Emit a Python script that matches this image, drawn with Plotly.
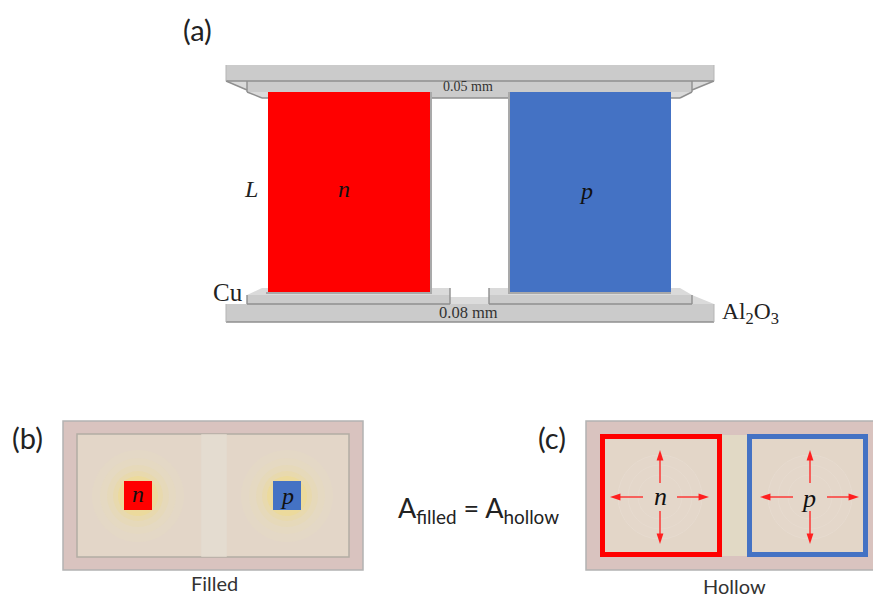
import plotly.graph_objects as go

W, H = 873, 595
GREY, EDGE, LIGHT = "#cbcbcb", "#8f8f8f", "#dadada"

# (x0, y0, x1, y1, fill)
plates = [
    (226, 65, 714, 81, GREY), (247, 81, 692, 92, GREY), (430, 92, 510, 98, GREY),
    (247, 295, 450, 304, GREY), (489, 295, 692, 304, GREY), (450, 297, 489, 304, "#dcdcdc"),
    (226, 304, 714, 322, GREY),
]
polys = [
    ([226, 247, 247, 226], [81, 90, 81, 81], LIGHT),
    ([692, 714, 692, 692], [81, 81, 90, 81], LIGHT),
    ([247, 262, 268, 268, 247], [92, 98, 98, 92, 92], LIGHT),
    ([671, 680, 692, 671], [98, 98, 92, 92], LIGHT),
    ([247, 262, 450, 450], [295, 288, 288, 295], LIGHT),
    ([489, 489, 680, 692], [295, 288, 288, 295], LIGHT),
    ([692, 714, 692, 692], [295, 304, 304, 295], LIGHT),
]
edges = [
    (226, 81, 714, 81), (226, 81, 247, 90), (692, 90, 714, 81), (247, 92, 262, 98),
    (262, 98, 680, 98), (680, 98, 692, 92), (247, 81, 247, 92), (692, 81, 692, 92),
    (247, 304, 450, 304), (489, 304, 692, 304), (450, 288, 450, 304), (489, 288, 489, 304),
    (247, 295, 247, 304), (692, 295, 692, 304), (226, 322, 714, 322),
]
soft_edges = [(226, 304, 226, 322), (714, 304, 714, 322), (226, 65, 226, 81), (714, 65, 714, 81)]
legs = [(268, 92, 430, 292, "#ff0000"), (510, 92, 671, 292, "#4472c4")]
leg_edges = [(430, 92, 432, 292), (508, 92, 510, 292), (266, 292, 432, 294), (508, 292, 671, 294)]

panel_b = [
    (63, 421, 363, 570, "#d9c3bf", "#b3b3b3"),
    (77, 434, 349, 557, "#e3d6c8", "#b3ada4"),
    (202, 435, 226, 556, "#e4dcd0", "#e4dcd0"),
]
glow_centers = [(138, 496), (287, 496)]
glow_radii = [46, 38, 31, 25, 20]
glow_colors = ["#e4d8c6", "#e5d9c2", "#e6d9ba", "#e8d9ae", "#ecda9c"]
squares_b = [(124, 481, 152, 510, "#ff0000"), (273, 481, 301, 510, "#4472c4")]

panel_c = [
    (586, 421, 880, 570, "#d9c3bf", "#b3b3b3"),
    (722, 435, 747, 556, "#e1d9c5", "#e1d9c5"),
]
frames = [(602.5, 436.5, 719.5, 554.5, "#ff0000"), (749.5, 436.5, 865.5, 554.5, "#4472c4")]
frame_fill = "#e3d6c8"
ring_centers = [(660, 497), (810, 497)]
ring_radii = [42, 32, 22]
arrows_tail = [(660, 483), (660, 511), (643, 497), (677, 497), (810, 483), (810, 511), (793, 497), (827, 497)]
arrows_head = [(660, 450), (660, 544), (610, 497), (709, 497), (810, 450), (810, 544), (760, 497), (859, 497)]

sans, serif = "Lato", "Liberation Serif"
labels = [
    ("(a)", 197, 29, 29, sans, "#222222"),
    ("(b)", 27, 437, 29, sans, "#222222"),
    ("(c)", 552, 437, 29, sans, "#222222"),
    ("0.05 mm", 468, 86, 14, serif, "#333333"),
    ("0.08 mm", 468, 312, 16.5, serif, "#333333"),
    ("Cu", 228, 292, 25, serif, "#222222"),
    ("<i>L</i>", 251, 189, 24, serif, "#222222"),
    ("<i>n</i>", 344, 189, 24, serif, "#111111"),
    ("<i>p</i>", 586, 191, 24, serif, "#111111"),
    ("Al<sub>2</sub>O<sub>3</sub>", 750, 313, 23.5, serif, "#222222"),
    ("<i>n</i>", 138, 494, 24, serif, "#111111"),
    ("<i>p</i>", 287, 496, 24, serif, "#111111"),
    ("<i>n</i>", 660, 496, 26, serif, "#111111"),
    ("<i>p</i>", 808, 498, 26, serif, "#111111"),
    ("Filled", 214, 583, 20, sans, "#333333"),
    ("Hollow", 734, 586, 20, sans, "#333333"),
    ("A<sub>filled</sub> = A<sub>hollow</sub>", 478, 509, 27, sans, "#222222"),
]

shapes = []
def rect(x0, y0, x1, y1, fill, line=None, width=1):
    shapes.append(dict(type="rect", layer="below", x0=x0, y0=y0, x1=x1, y1=y1, fillcolor=fill,
                       line=dict(color=line or fill, width=width if line else 0)))
def seg(x0, y0, x1, y1, color=EDGE, width=1.4):
    shapes.append(dict(type="line", layer="below", x0=x0, y0=y0, x1=x1, y1=y1,
                       line=dict(color=color, width=width)))
def poly(xs, ys, fill):
    path = "M" + "L".join(f"{x},{y}" for x, y in zip(xs, ys)) + "Z"
    shapes.append(dict(type="path", layer="below", path=path, fillcolor=fill, line=dict(width=0)))
def circle(cx, cy, r, fill, line=None):
    shapes.append(dict(type="circle", layer="below", x0=cx - r, y0=cy - r, x1=cx + r, y1=cy + r,
                       fillcolor=fill, line=dict(color=line or fill, width=1 if line else 0)))

for x0, y0, x1, y1, f in plates:
    rect(x0, y0, x1, y1, f)
for xs, ys, f in polys:
    poly(xs, ys, f)
for e in edges:
    seg(*e)
for e in soft_edges:
    seg(*e, color="#b5b5b5", width=1)
for x0, y0, x1, y1 in leg_edges:
    rect(x0, y0, x1, y1, "#a9a9a9")
for x0, y0, x1, y1, f in legs:
    rect(x0, y0, x1, y1, f)

for x0, y0, x1, y1, f, l in panel_b:
    rect(x0, y0, x1, y1, f, l, 1.5)
for cx, cy in glow_centers:
    for r, c in zip(glow_radii, glow_colors):
        circle(cx, cy, r, c)
for x0, y0, x1, y1, f in squares_b:
    rect(x0, y0, x1, y1, f)

rect(*panel_c[0][:4], panel_c[0][4], panel_c[0][5], 1.5)
for x0, y0, x1, y1, f in frames:
    rect(x0, y0, x1, y1, frame_fill)
for cx, cy in ring_centers:
    for r in ring_radii:
        circle(cx, cy, r, "#e4d7ca", "#e7dbcf")
for x0, y0, x1, y1, f in frames:
    rect(x0, y0, x1, y1, "rgba(0,0,0,0)", f, 5)
rect(*panel_c[1][:4], panel_c[1][4])

fig = go.Figure()
for (tx, ty), (hx, hy) in zip(arrows_tail, arrows_head):
    fig.add_trace(go.Scatter(
        x=[tx, hx], y=[ty, hy], mode="lines+markers", hoverinfo="skip",
        line=dict(color="#ff1f1f", width=1.3),
        marker=dict(symbol="arrow", size=[0, 11], angleref="previous", color="#ff1f1f",
                    opacity=1, line=dict(width=0)),
    ))

ann = []
for t, x, y, s, fam, c in labels:
    ann.append(dict(x=x, y=y, xref="x", yref="y", text=t, showarrow=False,
                    xanchor="center", yanchor="middle", font=dict(size=s, family=fam, color=c)))

fig.update_layout(
    width=W, height=H, margin=dict(l=0, r=0, t=0, b=0), showlegend=False,
    paper_bgcolor="white", plot_bgcolor="white", shapes=shapes, annotations=ann,
    xaxis=dict(range=[0, W], visible=False, fixedrange=True),
    yaxis=dict(range=[H, 0], visible=False, fixedrange=True),
)
fig.write_html("out.html", config={"displayModeBar": False},
               post_script="document.body.style.margin='0';document.body.style.overflow='hidden';")
